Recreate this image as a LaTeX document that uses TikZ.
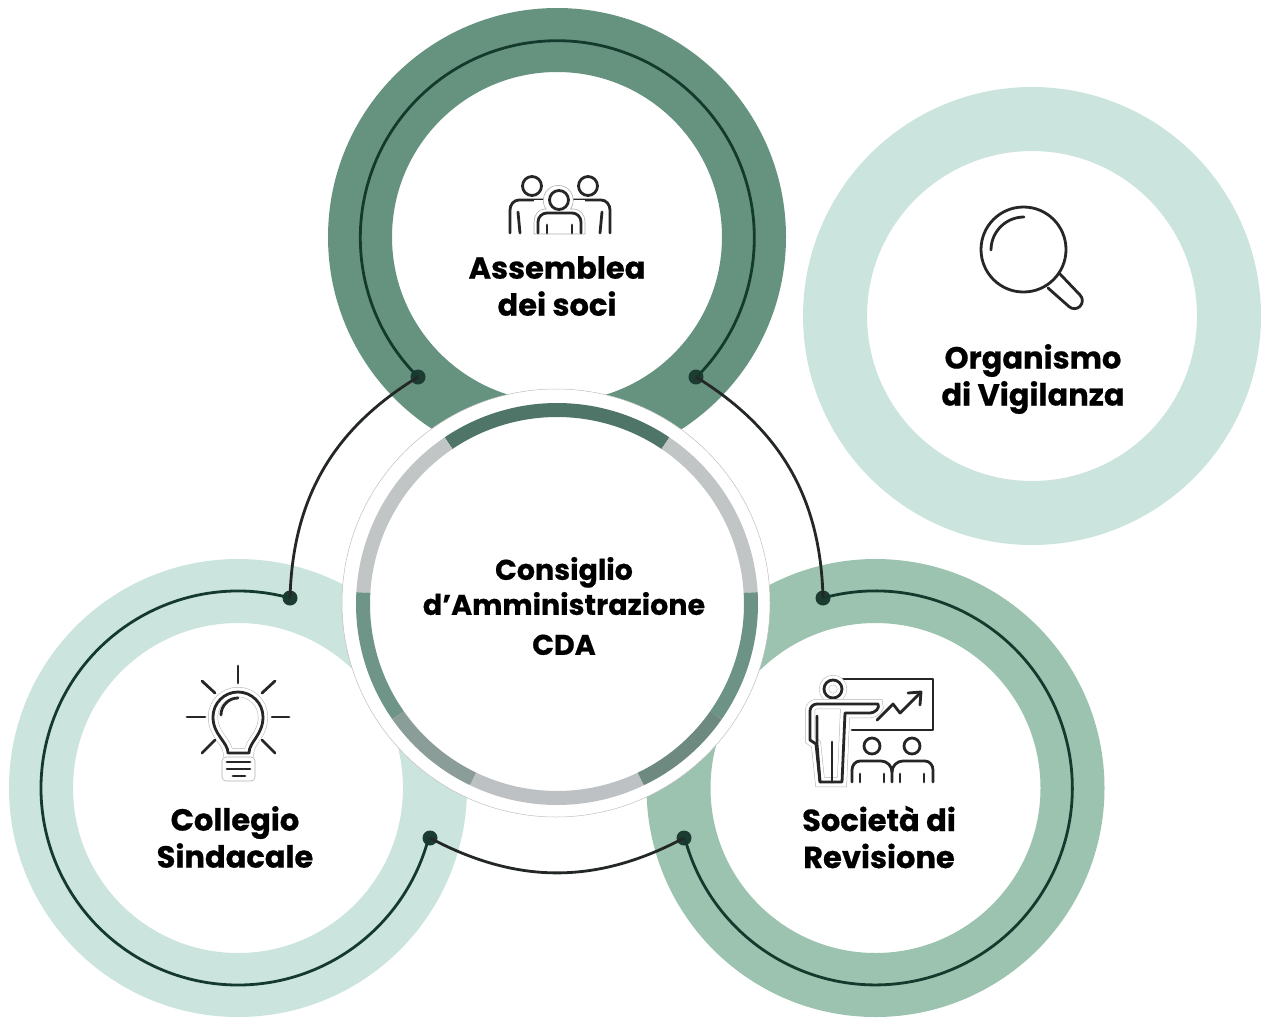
\documentclass[tikz,border=0pt]{standalone}
\usepackage{fontspec}
\setmainfont{Poppins}[BoldFeatures={FakeBold=0.6}]
\definecolor{ringdark}{HTML}{66937F}
\definecolor{ringmid}{HTML}{9CC3AF}
\definecolor{ringlight}{HTML}{CBE4DD}
\definecolor{dotgreen}{HTML}{1C3B31}
\definecolor{arcgreen}{HTML}{143A2E}
\definecolor{linkgrey}{HTML}{232826}
\definecolor{icongrey}{HTML}{262626}
\tikzset{
    ringnode/.style={circle, draw=#1, fill=white, line width=64pt, minimum size=394pt, inner sep=0pt},
    dotmark/.style={circle, fill=dotgreen, minimum size=15pt, inner sep=0pt},
    titlelabel/.style={align=center, font=\fontsize{30.5}{37}\selectfont\bfseries},
    ringarc/.style={draw=arcgreen, line width=2.8pt},
    linkarc/.style={draw=linkgrey, line width=2.8pt},
    iconline/.style={draw=icongrey, line width=2.8pt, line cap=round, line join=round},
    halo/.style={preaction={draw=black!30, line width=10pt}, preaction={draw=white, line width=9pt}},
}
\begin{document}
\begin{tikzpicture}[x=1pt,y=1pt]
\useasboundingbox (0,-1020) rectangle (1265,0);

\foreach \name/\x/\y/\col in {assemblea/557/237/ringdark, vigilanza/1032/316/ringlight, collegio/238/788/ringlight, revisione/875.5/788/ringmid}{
    \node[ringnode=\col] (\name) at (\x,-\y) {};
}

% dots on the rings
\node[dotmark] (assembleaL) at (418,-377) {};
\node[dotmark] (assembleaR) at (696,-377) {};
\node[dotmark] (collegioT) at (290,-598) {};
\node[dotmark] (collegioR) at (430,-838) {};
\node[dotmark] (revisioneT) at (823,-598) {};
\node[dotmark] (revisioneL) at (684,-838) {};

\draw[ringarc] (assembleaL.center) arc[start angle=225, end angle=-45, radius=197];
\draw[ringarc] (collegioT.center) arc[start angle=74.7, end angle=345.4, radius=197];
\draw[ringarc] (revisioneT.center) arc[start angle=105.4, end angle=-165.4, radius=197];

\draw[linkarc] (assembleaL.center) to[bend right=28.5] (collegioT.center);
\draw[linkarc] (assembleaR.center) to[bend left=28.5] (revisioneT.center);
\draw[linkarc] (collegioR.center) to[bend right=28] (revisioneL.center);

% centre circle
\node[circle, draw=black!25, fill=white, line width=0.5pt, minimum size=428pt, inner sep=0pt] (cda) at (556,-603) {};
\coordinate (cdaMid) at (557,-604);
\foreach \a/\b/\col in {56/124/4F7568, 3.4/56/C1C5C6, 124/176.6/C1C5C6, 176.6/215/6F9488, 215/244.4/8A9D98, 244.4/295.6/BDC1C3, 295.6/325/6E8980, 325/363.4/6C9385}{
    \definecolor{segcol}{HTML}{\col}
    \draw[draw=segcol, line width=14pt] ([shift={(\a:194)}]cdaMid) arc[start angle=\a, end angle=\b, radius=194];
}

% labels
\node[titlelabel] (assembleaText) at (557,-286) {Assemblea\\dei soci};
\node[titlelabel] (vigilanzaText) at (1033,-379) {Organismo\\di Vigilanza};
\node[titlelabel] (collegioText) at (235,-837) {Collegio\\Sindacale};
\node[titlelabel] (revisioneText) at (879,-837) {Società di\\Revisione};
\node[align=center, font=\fontsize{28.5}{35}\selectfont\bfseries] (cdaText) at (564,-606) {Consiglio\\d’Amministrazione\\[5pt]CDA};

% people icon
\foreach \x in {532,588}{
    \draw[iconline] (\x,-186) circle[radius=9.5];
}
\draw[iconline] (510,-233) -- (510,-210) to[out=90,in=180] (519,-200) -- (547,-200);
\draw[iconline] (610,-233) -- (610,-210) to[out=90,in=0] (601,-200) -- (573,-200);
\draw[iconline] (518,-212) -- (520,-233);
\draw[iconline] (602,-212) -- (600,-233);
\fill[white] (534,-234) rectangle (585,-200);
\draw[draw=black!30, line width=0.6pt, fill=white] (534,-234) -- (534,-222) to[out=90,in=180] (545,-209) -- (546,-209) arc[start angle=215, end angle=-35, radius=15] -- (574,-209) to[out=0,in=90] (585,-222) -- (585,-234) -- cycle;
\draw[iconline] (559,-200) circle[radius=9.5];
\draw[iconline] (538,-233) -- (538,-222) to[out=90,in=180] (547,-213) -- (572,-213) to[out=0,in=90] (581,-222) -- (581,-233);
\draw[iconline] (547,-225) -- (547,-233);
\draw[iconline] (572,-225) -- (572,-233);

% lens icon
\draw[draw=icongrey, line width=2.8pt, fill=white] (1023.5,-249.5) circle[radius=42.5];
\draw[iconline] (1060,-274) -- (1080,-295) arc[start angle=45, end angle=-135, radius=8] -- (1048,-288);
\draw[iconline] (991,-250) arc[start angle=180, end angle=90, radius=33];

% bulb icon
\draw[iconline, halo] (228,-753) .. controls (228,-742) and (213,-735) .. (213,-717) arc[start angle=180, end angle=0, radius=25] .. controls (263,-735) and (249,-742) .. (249,-753) -- cycle;
\draw[draw=black!30, line width=0.6pt, fill=white, rounded corners=4pt] (222,-757) rectangle (255,-781);
\draw[iconline] (221,-715) arc[start angle=180, end angle=90, radius=17];
\foreach \xa/\ya/\xb/\yb in {227/762/250/762, 227/769/250/769, 233/776/245/776, 238/666/238/683, 187/717/205/717, 272/717/289/717, 202/681/215/693, 275/681/262/693, 202/753/215/740, 275/753/262/740}{
    \draw[iconline] (\xa,-\ya) -- (\xb,-\yb);
}

% presenter icon
\draw[iconline] (843,-679) -- (933,-679) -- (933,-730) -- (852,-730);
\draw[iconline] (877,-720) -- (893,-704) -- (900,-713) -- (920,-693);
\draw[iconline] (908,-693) -- (921,-692) -- (920,-705);
\draw[iconline, halo] (833,-689) circle[radius=9];
\draw[iconline, halo] (878,-704) -- (817,-704) to[out=180,in=90] (810,-711) -- (810,-740) -- (816,-744) -- (820,-782) -- (842,-782) -- (845,-713) -- (870,-713) to[out=0,in=-60] (878,-704) -- cycle;
\draw[iconline] (817,-716) -- (817,-744) -- (820,-782);
\draw[iconline] (832,-742) -- (832,-782);
\foreach \x in {872,912}{
    \draw[iconline] (\x,-746) circle[radius=8];
}
\draw[iconline] (852,-782) -- (852,-770) to[out=90,in=180] (860,-761) -- (881,-761) to[out=0,in=90] (892,-772) -- (892,-782);
\draw[iconline] (892,-772) to[out=90,in=180] (903,-761) -- (925,-761) to[out=0,in=90] (933,-770) -- (933,-782);
\foreach \x in {860,884,900,924}{
    \draw[iconline] (\x,-774) -- (\x,-782);
}

\end{tikzpicture}
\end{document}
